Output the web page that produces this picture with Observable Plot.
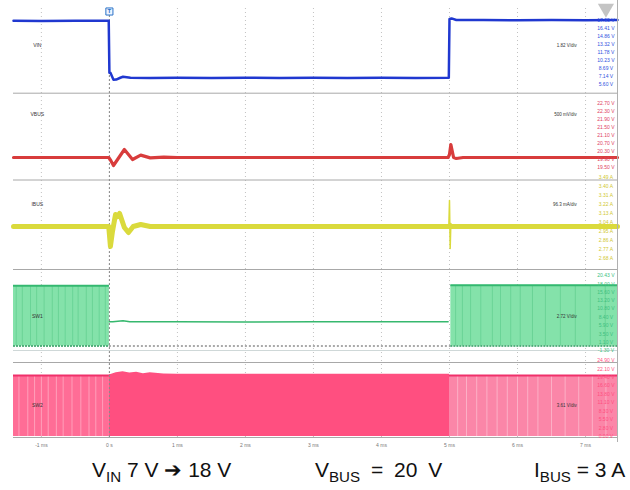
<!DOCTYPE html>
<html><head><meta charset="utf-8">
<script src="https://cdn.jsdelivr.net/npm/d3@7"></script>
<script src="https://cdn.jsdelivr.net/npm/@observablehq/plot@0.6"></script>
<style>
body{margin:0;background:#fff;width:630px;height:490px;overflow:hidden;font-family:"Liberation Sans",Arial,sans-serif}
#chart svg{display:block}
#caption{position:relative;width:630px;height:38px;font-size:21px;color:#111;overflow:hidden}
#caption span{position:absolute;top:6px;white-space:nowrap}
sub{font-size:72%;vertical-align:-0.3em;line-height:0}
</style></head><body>
<div id="chart"></div>
<div id="caption"></div>
<script>
// ---------- data ----------
const channels = ["VIN", "VBUS", "IBUS", "SW1", "SW2"];
const units = ["V", "V", "A", "V", "V"];
const scaleLabels = ["1.82 V/div", "500 mV/div", "96.3 mA/div", "2.72 V/div", "3.61 V/div"];
const timeTicks = [-1, 0, 1, 2, 3, 4, 5, 6, 7];
const timeTickLabels = ["-1 ms", "0 s", "1 ms", "2 ms", "3 ms", "4 ms", "5 ms", "6 ms", "7 ms"];

// VIN (V)
const vinT = [-1.41, -1.0, -0.5, -0.01, 0.0, 0.015, 0.06, 0.1, 0.16, 0.2, 0.31, 0.6, 1.0, 1.5, 2.0, 2.5, 3.0, 3.5, 4.0, 4.5, 4.99, 5.0, 5.03, 5.1, 5.5, 6.0, 6.5, 7.0, 7.47];
const vinV = [17.95, 17.9, 17.95, 17.95, 7.9, 7.9, 6.56, 6.6, 6.95, 7.14, 6.95, 6.9, 6.95, 6.9, 6.95, 6.9, 6.95, 6.9, 6.95, 6.9, 6.95, 18.3, 18.4, 18.1, 18.1, 18.05, 18.1, 18.05, 18.1];
// VBUS (V)
const vbusT = [-1.41, -0.5, -0.01, 0.02, 0.06, 0.22, 0.34, 0.46, 0.6, 0.8, 1.0, 2.0, 3.0, 4.0, 4.98, 5.0, 5.02, 5.06, 5.1, 5.2, 6.0, 7.47];
const vbusV = [20.0, 20.0, 20.0, 19.85, 19.6, 20.4, 19.9, 20.12, 19.98, 20.02, 20.0, 20.0, 20.0, 20.0, 20.0, 20.15, 20.65, 20.0, 19.95, 20.0, 20.0, 20.0];
// IBUS (A): steady band with the step-down transient, plus the thin step-up spike
const ibusT = [-1.41, -0.5, -0.01, 0.015, 0.045, 0.09, 0.12, 0.15, 0.22, 0.28, 0.35, 0.46, 0.6, 1.0, 2.0, 3.0, 4.0, 5.0, 6.0, 7.47];
const ibusV = [3.0, 3.0, 3.0, 2.8, 2.95, 3.12, 3.1, 3.13, 2.99, 2.94, 3.0, 3.02, 3.0, 3.0, 3.0, 3.0, 3.0, 3.0, 3.0, 3.0];
const ibusEdgeT = [4.99, 5.0, 5.01, 5.02, 5.03];
const ibusEdgeV = [3.0, 3.26, 2.78, 3.03, 3.0];
// SW1 (V): switching envelope before / after, DC level in between
const sw1High = [17.5, 17.6];
const sw1DcT = [0.0, 0.05, 0.2, 0.3, 0.6, 1.0, 2.0, 3.0, 4.0, 4.98];
const sw1DcV = [7.0, 7.0, 7.3, 7.0, 7.05, 7.0, 6.95, 7.0, 7.0, 7.0];
const sw1StripesL = [-1.37, -1.28, -1.16, -1.07, -0.96, -0.84, -0.75, -0.65, -0.54, -0.46, -0.34, -0.25, -0.15, -0.06];
const sw1StripesR = [5.09, 5.19, 5.31, 5.46, 5.63, 5.75, 5.90, 6.04, 6.22, 6.41, 6.63, 6.85, 7.07, 7.29];
// SW2 (V)
const sw2High = [20.0, 20.3, 20.0];
const sw2BumpT = [0.0, 0.1, 0.2, 0.3, 0.4, 0.5, 0.6, 0.8, 1.0, 3.0, 5.0];
const sw2BumpV = [20.2, 20.9, 21.2, 20.8, 21.1, 20.6, 20.9, 20.5, 20.4, 20.4, 20.4];
const sw2StripesL = [-1.33, -1.2, -1.1, -1.0, -0.9, -0.78, -0.68, -0.55, -0.42, -0.3, -0.2, -0.1];
const sw2StripesR = [5.12, 5.25, 5.4, 5.55, 5.7, 5.85, 6.0, 6.15, 6.3, 6.5, 6.7, 6.9, 7.1, 7.3];

// right-side per-division readouts
const readouts = [
  [17.95, 16.41, 14.86, 13.32, 11.78, 10.23, 8.69, 7.14, 5.60],
  [22.70, 22.30, 21.90, 21.50, 21.10, 20.70, 20.30, 19.90, 19.50],
  [3.49, 3.40, 3.31, 3.22, 3.13, 3.04, 2.95, 2.86, 2.77, 2.68],
  [20.43, 18.0, 15.6, 13.2, 10.8, 8.4, 5.9, 3.5, 1.1, -1.3],
  [24.9, 22.1, 19.4, 16.6, 13.8, 11.1, 8.3, 5.5, 2.8, 0.0]
];

const captionParts = [
  {main: "V", sub: "IN", rest: " 7 V \u2794 18 V"},
  {main: "V", sub: "BUS", rest: " = 20 V"},
  {main: "I", sub: "BUS", rest: " = 3 A"}
];

// ---------- display settings (scope setup) ----------
const colors = ["#2038d0", "#d83c3c", "#dada3c", "#84e2aa", "#ff4f80"];
const chOffset = [43.2, 29.5, 22.6, 10.65, 1.6];   // screen position of reference level (div)
const chRef = [18, 20, 3, 0, 0];
const chPerDiv = [1.93, 0.5, 0.1, 2.9, 3.28];
const pos = (c, v) => chOffset[c] + (v - chRef[c]) / chPerDiv[c];
const laneEdges = [35.93, 27.25, 18.3, 9.0, 1.5];
const laneLabelDiv = [40.7, 33.8, 24.8, 13.6, 4.7];
const tMin = -1.41, tMax = 7.47;
const capLeft = [92, 315, 534];
const capWordSpacing = ["0px", "5px", "0px"];

const pts = (T, V) => T.map((t, i) => ({t, v: V[i]}));

const marks = [];
// grid
marks.push(Plot.ruleX(timeTicks, {x: d => d, y1: 1.5, y2: 44.7, stroke: "#9a9a9a", strokeOpacity: 0.6, strokeDasharray: "1,3"}));
marks.push(Plot.ruleY(laneEdges, {x1: tMin, x2: tMax, y: d => d, stroke: "#a8a8a8", strokeWidth: 1}));
marks.push(Plot.ruleY([10.2], {x1: tMin, x2: tMax, y: d => d, stroke: "#cfd8d8", strokeWidth: 1}));

// SW1 envelopes
const sw1Env = [{a: tMin, b: 0, h: sw1High[0]}, {a: 5.02, b: tMax, h: sw1High[1]}];
marks.push(Plot.rect(sw1Env, {x1: "a", x2: "b", y1: () => pos(3, 0), y2: d => pos(3, d.h), fill: colors[3]}));
marks.push(Plot.ruleX(sw1StripesL.concat(sw1StripesR), {x: d => d, y1: () => pos(3, 0), y2: () => pos(3, 17.5), stroke: "#55c987", strokeWidth: 1, strokeOpacity: 0.55}));
marks.push(Plot.ruleY(sw1Env, {x1: "a", x2: "b", y: d => pos(3, d.h), stroke: "#34b870", strokeWidth: 2}));
marks.push(Plot.ruleY(sw1Env, {x1: "a", x2: "b", y: () => pos(3, 0), stroke: "#2a9a5c", strokeWidth: 1.5, strokeDasharray: "2,1"}));
marks.push(Plot.ruleY([0], {x1: 0, x2: 5.02, y: () => pos(3, 0), stroke: "#555", strokeWidth: 1, strokeDasharray: "2,2"}));
marks.push(Plot.line(pts(sw1DcT, sw1DcV), {x: "t", y: d => pos(3, d.v), stroke: "#36b86e", strokeWidth: 1.5}));

// SW2 envelopes
const sw2Env = [{a: tMin, b: 0, h: sw2High[0], f: "#ff6d96"}, {a: 0, b: 5.0, h: sw2High[1], f: "#ff4f80"}, {a: 5.0, b: tMax, h: sw2High[2], f: "#fb86a8"}];
marks.push(Plot.rect(sw2Env, {x1: "a", x2: "b", y1: () => pos(4, 0), y2: d => pos(4, d.h), fill: "f"}));
marks.push(Plot.areaY(pts(sw2BumpT, sw2BumpV), {x: "t", y1: () => pos(4, 19), y2: d => pos(4, d.v), fill: "#ff4f80"}));
marks.push(Plot.ruleX(sw2StripesL.concat(sw2StripesR), {x: d => d, y1: () => pos(4, 0), y2: () => pos(4, 20), stroke: "#ffffff", strokeWidth: 1, strokeOpacity: 0.35}));
marks.push(Plot.ruleY([sw2Env[0], sw2Env[2]], {x1: "a", x2: "b", y: d => pos(4, d.h), stroke: "#f0306a", strokeWidth: 2}));

// cursor line
marks.push(Plot.ruleX([0], {x: d => d, y1: 1.5, y2: 43.8, stroke: "#8a8a8a", strokeDasharray: "2,2"}));

// traces
marks.push(Plot.line(pts(ibusT, ibusV), {x: "t", y: d => pos(2, d.v), stroke: colors[2], strokeWidth: 5, strokeLinejoin: "round"}));
marks.push(Plot.line(pts(ibusEdgeT, ibusEdgeV), {x: "t", y: d => pos(2, d.v), stroke: colors[2], strokeWidth: 1.5}));
marks.push(Plot.line(pts(vbusT, vbusV), {x: "t", y: d => pos(1, d.v), stroke: colors[1], strokeWidth: 3.2, strokeLinejoin: "round"}));
marks.push(Plot.line(pts(vinT, vinV), {x: "t", y: d => pos(0, d.v), stroke: colors[0], strokeWidth: 2.5}));

// trigger marker and corner tab
marks.push(Plot.dot([0], {x: d => d, y: 44.1, symbol: "square", r: 4, stroke: "#2a72c8", fill: "#eef4ff", strokeWidth: 1}));
marks.push(Plot.text([0], {x: d => d, y: 44.1, text: () => "T", fill: "#2a72c8", fontSize: 6, fontWeight: "bold"}));
marks.push(Plot.dot([7.3], {x: d => d, y: 44.4, symbol: "triangle", r: 6, rotate: 180, fill: "#c4c4c4"}));

// labels
marks.push(Plot.text(channels, {x: () => -1.06, y: (d, i) => laneLabelDiv[i], text: d => d, fontSize: 5, fill: "#333"}));
marks.push(Plot.text(scaleLabels, {x: () => 6.87, y: (d, i) => laneLabelDiv[i], text: d => d, fontSize: 4.5, fill: "#333", textAnchor: "end"}));
const readRows = readouts.flatMap((arr, c) => arr.map(v => ({c, v})));
marks.push(Plot.text(readRows, {x: () => 7.3, y: d => pos(d.c, d.v), text: d => d.v.toFixed(2) + " " + units[d.c], fontSize: 5, fill: d => ["#3050e0", "#e04060", "#d0c830", "#40c080", "#ff4f80"][d.c]}));
marks.push(Plot.ruleX([tMax], {x: d => d, y1: 1.0, y2: 45.2, stroke: "#b0b0b0"}));

const chart = Plot.plot({
  width: 630, height: 452,
  marginLeft: 13, marginRight: 13, marginTop: 0, marginBottom: 12,
  style: {fontFamily: "Liberation Sans, Arial, sans-serif", background: "#fff"},
  x: {domain: [tMin, tMax], range: [13, 617], axis: null},
  y: {domain: [0, 45.2], range: [452, 0], axis: null},
  marks: [
    ...marks,
    Plot.axisX(timeTicks, {anchor: "bottom", tickSize: 0, tickPadding: 3, fontSize: 5, fill: "#777", tickFormat: (d, i) => timeTickLabels[i]})
  ]
});
document.getElementById("chart").appendChild(chart);

const cap = document.getElementById("caption");
captionParts.forEach((p, i) => {
  const s = document.createElement("span");
  s.style.left = capLeft[i] + "px";
  s.style.wordSpacing = capWordSpacing[i];
  s.innerHTML = p.main + "<sub>" + p.sub + "</sub>" + p.rest;
  cap.appendChild(s);
});
</script>
</body></html>
